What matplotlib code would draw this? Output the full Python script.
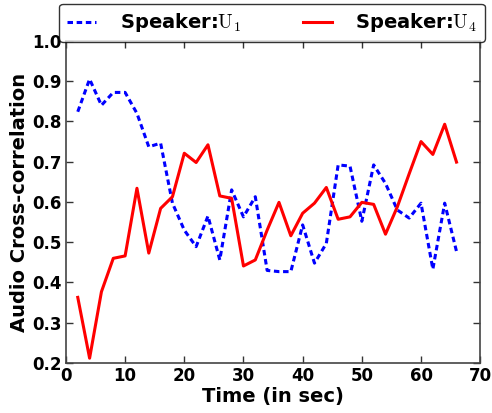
import matplotlib
matplotlib.use('Agg')
import matplotlib.pyplot as plt

plt.rcParams['mathtext.fontset'] = 'cm'
plt.rcParams['font.weight'] = 'bold'

# time stamps (sec) and cross-correlation per speaker
time_sec = [2, 4, 6, 8, 10, 12, 14, 16, 18, 20, 22, 24, 26, 28, 30, 32, 34,
            36, 38, 40, 42, 44, 46, 48, 50, 52, 54, 56, 58, 60, 62, 64, 66]
corr_u1 = [0.824, 0.905, 0.84, 0.872, 0.872, 0.82, 0.737, 0.746, 0.597, 0.53,
           0.489, 0.565, 0.456, 0.63, 0.563, 0.613, 0.43, 0.427, 0.427, 0.543,
           0.448, 0.497, 0.692, 0.689, 0.552, 0.692, 0.646, 0.58, 0.56, 0.597,
           0.433, 0.597, 0.477]
corr_u4 = [0.363, 0.212, 0.377, 0.46, 0.466, 0.634, 0.473, 0.584, 0.613, 0.721,
           0.698, 0.742, 0.615, 0.609, 0.441, 0.456, 0.53, 0.599, 0.516, 0.572,
           0.597, 0.636, 0.557, 0.563, 0.599, 0.594, 0.52, 0.588, 0.67, 0.75,
           0.718, 0.793, 0.699]

x_ticks = [0, 10, 20, 30, 40, 50, 60, 70]
y_ticks = [0.2, 0.3, 0.4, 0.5, 0.6, 0.7, 0.8, 0.9, 1.0]

fig = plt.figure(figsize=(4.92, 4.13), dpi=100)
ax = fig.add_axes([0.134, 0.121, 0.842, 0.780])

l1, = ax.plot(time_sec, corr_u1, color='blue', lw=2.2, ls='--',
              label=r'Speaker:$\mathrm{U}_1$')
l1.set_dashes((1.8, 1.2))
ax.plot(time_sec, corr_u4, color='red', lw=2.2, label=r'Speaker:$\mathrm{U}_4$')

ax.set_xlim(0, 70)
ax.set_ylim(0.2, 1.0)
ax.set_xticks(x_ticks)
ax.set_yticks(y_ticks)
ax.set_xticklabels([str(t) for t in x_ticks], fontsize=12, fontweight='bold')
ax.set_yticklabels(['%.1f' % t for t in y_ticks], fontsize=12, fontweight='bold')
ax.tick_params(direction='in', top=True, right=True, length=5, width=1,
               color='#333333')
ax.tick_params(axis='y', pad=3)
ax.tick_params(axis='x', pad=3)
for s in ax.spines.values():
    s.set_color('#444444')
    s.set_linewidth(1.2)

ax.set_xlabel('Time (in sec)', fontsize=14, fontweight='bold', labelpad=1)
ax.set_ylabel('Audio Cross-correlation', fontsize=14, fontweight='bold', labelpad=2)

leg = ax.legend(loc='center', bbox_to_anchor=(-0.016, 1.0, 1.028, 0.112),
                mode='expand', ncol=2, borderaxespad=0, frameon=True,
                fancybox=True, prop={'size': 14, 'weight': 'bold'},
                handlelength=1.5, handletextpad=1.2, columnspacing=2.0)
leg.get_frame().set_edgecolor('black')
leg.get_frame().set_linewidth(1.0)

fig.savefig('out.png', dpi=100)
